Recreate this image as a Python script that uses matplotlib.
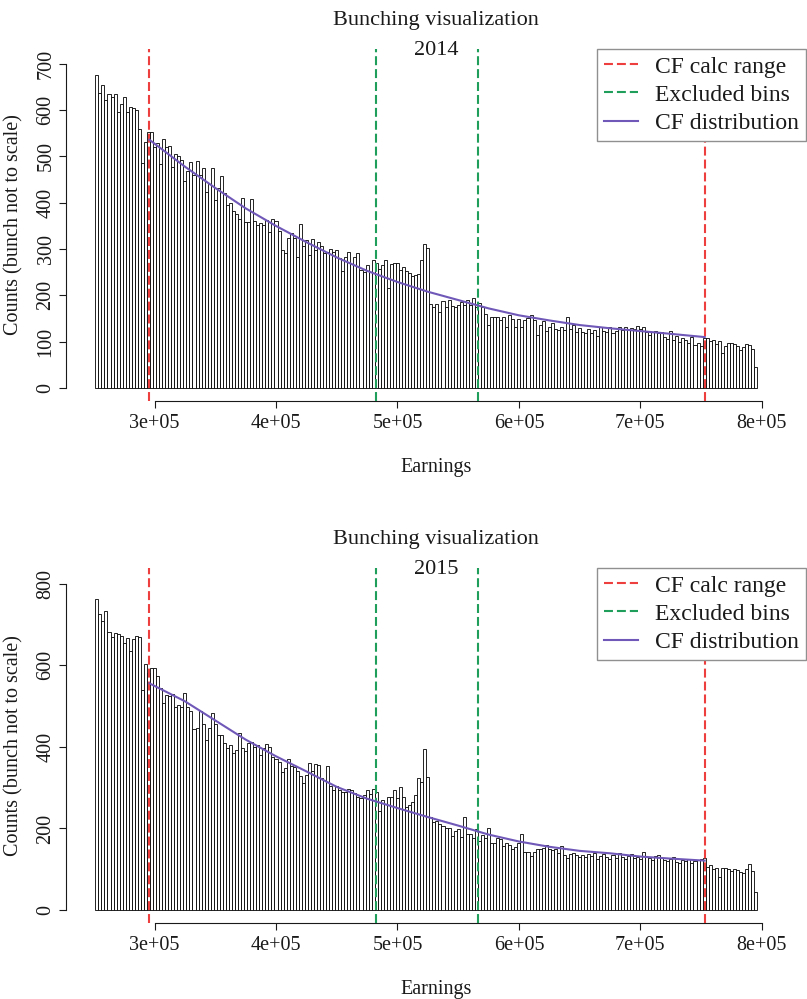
import matplotlib
matplotlib.use("Agg")
import matplotlib.pyplot as plt
import numpy as np

plt.rcParams['font.family'] = ['Liberation Serif', 'DejaVu Serif']

# -- data --
bin_width = 2500
first_edge = 251250

counts_2014 = [
    # 251k - 386k
    676, 636, 654, 622, 634, 628, 635, 595, 613, 628, 595, 607, 604, 600, 559, 485, 532, 553,
    553, 520, 528, 484, 537, 521, 523, 477, 505, 500, 492, 446, 469, 487, 460, 491, 460, 474,
    424, 440, 474, 406, 431, 458, 422, 395, 399, 383, 375, 366, 411, 358, 359, 409, 361, 352,
    # 386k - 518k
    356, 352, 363, 337, 364, 361, 340, 297, 291, 323, 334, 323, 282, 354, 307, 320, 287, 321,
    298, 316, 307, 292, 294, 300, 294, 299, 280, 253, 282, 294, 268, 282, 291, 254, 251, 265,
    251, 276, 270, 258, 265, 276, 217, 268, 269, 269, 254, 262, 253, 249, 241, 244, 246,
    # 518k - 651k
    277, 311, 302, 181, 174, 182, 164, 188, 175, 190, 177, 174, 179, 185, 179, 191, 179, 195,
    175, 183, 175, 159, 136, 154, 154, 154, 147, 154, 132, 157, 150, 132, 148, 132, 147, 151,
    157, 147, 115, 136, 144, 124, 132, 140, 128, 125, 132, 126, 154, 128, 136, 121, 130,
    # 651k - 796k
    120, 118, 128, 118, 125, 112, 132, 124, 122, 132, 118, 124, 132, 125, 132, 125, 130, 128,
    134, 127, 132, 122, 115, 122, 124, 118, 120, 111, 105, 124, 104, 113, 100, 107, 104, 98,
    110, 93, 98, 91, 107, 107, 102, 104, 96, 102, 75, 90, 98, 98, 95, 90, 82, 88, 95, 92, 85, 45,
]

counts_2015 = [
    762, 726, 709, 734, 683, 669, 680, 677, 672, 656, 668, 636, 664, 671, 670, 540, 604, 582,
    593, 593, 573, 544, 509, 528, 524, 530, 498, 503, 499, 532, 499, 487, 443, 446, 487, 457,
    417, 446, 483, 457, 429, 429, 410, 397, 405, 384, 392, 433, 397, 389, 409, 413, 400, 405,
    380, 397, 407, 400, 376, 370, 362, 339, 348, 370, 352, 350, 340, 329, 312, 331, 360, 342,
    358, 356, 323, 319, 353, 303, 294, 303, 294, 289, 290, 296, 294, 288, 276, 274, 282, 294,
    285, 296, 290, 244, 270, 260, 276, 278, 294, 274, 301, 276, 253, 257, 265, 282, 323,
    315, 394, 327, 228, 217, 219, 211, 205, 200, 200, 182, 194, 198, 178, 228, 186, 186, 176,
    198, 168, 184, 176, 200, 165, 165, 176, 173, 157, 165, 160, 149, 155, 165, 186, 143, 141,
    132, 141, 149, 149, 151, 159, 149, 146, 150, 139, 158, 135, 127, 138, 140, 135, 130,
    135, 129, 137, 132, 139, 126, 133, 137, 131, 126, 135, 128, 139, 131, 126, 133, 137, 128,
    131, 125, 143, 130, 128, 123, 133, 135, 128, 122, 119, 126, 130, 118, 115, 122, 119, 125,
    116, 120, 123, 125, 128, 106, 111, 101, 104, 82, 104, 102, 100, 96, 100, 98, 93, 91, 100,
    113, 96, 45,
]

cf_x = [295800, 325000, 350000, 375000, 400000, 425000, 450000, 475000, 500000, 525000,
        550000, 575000, 600000, 625000, 650000, 675000, 700000, 725000, 753000]
cf_2014 = [536, 478, 432, 388, 350, 315, 282, 253, 229, 208, 190, 172, 157, 146, 136, 129, 123, 117, 110]
cf_2015 = [556, 512, 465, 418, 377, 340, 302, 273, 250, 228, 207, 185, 168, 155, 145, 139, 131, 126, 121]

cf_range = [295800, 753000]
excluded = [482700, 566400]

x_ticks = [300000, 400000, 500000, 600000, 700000, 800000]
x_tick_labels = ['3e+05', '4e+05', '5e+05', '6e+05', '7e+05', '8e+05']

panels = [
    ("2014", counts_2014, cf_2014, [0, 100, 200, 300, 400, 500, 600, 700], (-28, 732), (49, 401)),
    ("2015", counts_2015, cf_2015, [0, 200, 400, 600, 800], (-32, 839), (568, 923)),
]

RED = '#EE3F3F'
GREEN = '#1E9E5A'
PURPLE = '#6F58B8'
INK = '#1a1a1a'

W, H = 807, 999
fig = plt.figure(figsize=(W / 100, H / 100), dpi=100)
left_px, right_px = 66, 806

for year, counts, cf, yticks, ylim, (top_px, bot_px) in panels:
    ax = fig.add_axes([left_px / W, 1 - bot_px / H, (right_px - left_px) / W, (bot_px - top_px) / H])
    edges = first_edge + bin_width * np.arange(len(counts))
    ax.bar(edges, counts, width=bin_width, align='edge', facecolor='white',
           edgecolor='black', linewidth=0.6, zorder=1)

    dash = (4.3, 1.9)
    for x in cf_range:
        ax.axvline(x, color=RED, lw=1.5, dashes=dash, zorder=3)
    for x in excluded:
        ax.axvline(x, color=GREEN, lw=1.5, dashes=dash, zorder=3)
    ax.plot(cf_x, cf, color=PURPLE, lw=1.5, zorder=4)

    ax.set_xlim(227100, 836400)
    ax.set_ylim(*ylim)
    for s in ['top', 'right']:
        ax.spines[s].set_visible(False)
    ax.spines['bottom'].set_bounds(x_ticks[0], x_ticks[-1])
    ax.spines['left'].set_bounds(yticks[0], yticks[-1])
    for s in ['bottom', 'left']:
        ax.spines[s].set_linewidth(0.8)
        ax.spines[s].set_color(INK)

    ax.set_xticks(x_ticks, x_tick_labels)
    ax.set_yticks(yticks, [str(v) for v in yticks])
    ax.tick_params(direction='out', length=5, width=0.8, colors=INK, labelsize=14.5)
    ax.tick_params(axis='x', pad=4)
    ax.tick_params(axis='y', pad=2.5)
    for lab in ax.get_yticklabels():
        lab.set_rotation(90)
        lab.set_va('center')

    handles = [
        plt.Line2D([], [], color=RED, lw=1.5, dashes=dash),
        plt.Line2D([], [], color=GREEN, lw=1.5, dashes=dash),
        plt.Line2D([], [], color=PURPLE, lw=1.5),
    ]
    leg = ax.legend(handles, ['CF calc range', 'Excluded bins', 'CF distribution'],
                    loc='upper right', bbox_to_anchor=(1, 1), borderaxespad=0,
                    fontsize=17, handlelength=1.45, handletextpad=0.72, borderpad=0.3,
                    labelspacing=0.28, fancybox=False, framealpha=1)
    leg.get_frame().set_edgecolor('#909090')
    leg.get_frame().set_linewidth(1)
    for t in leg.get_texts():
        t.set_color(INK)

    cx = (left_px + right_px) / 2 / W
    fig.text(cx, 1 - (top_px - 24) / H, 'Bunching visualization', ha='center',
             va='baseline', fontsize=16, color=INK)
    fig.text(cx, 1 - (top_px + 6) / H, year, ha='center', va='baseline', fontsize=16, color=INK)
    fig.text(cx, 1 - (bot_px + 71) / H, 'Earnings', ha='center', va='baseline',
             fontsize=14.5, color=INK)
    fig.text(14 / W, 1 - (top_px + bot_px) / 2 / H, 'Counts (bunch not to scale)',
             rotation=90, ha='center', va='center', fontsize=14.5, color=INK)

fig.savefig('out.png', dpi=100)
